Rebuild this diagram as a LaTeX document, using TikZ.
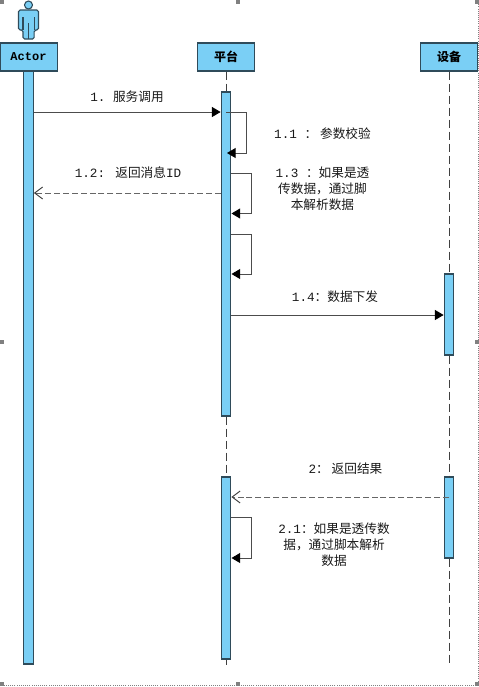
\documentclass[tikz,border=0pt]{standalone}
\usepackage{fontspec}
\setmainfont{Liberation Mono}
\newfontfamily\cjk{Noto Sans CJK SC}
\usetikzlibrary{arrows.meta}

\definecolor{barblue}{HTML}{7ACFF5}
\definecolor{barline}{HTML}{2F4B5A}
\definecolor{handle}{HTML}{808080}

\begin{document}
\begin{tikzpicture}[
            x=0.75pt,
            y=-0.75pt,
            semithick
        ]

        \tikzset{
            head/.style={draw=barline, fill=barblue, line width=1pt, minimum width=43pt, minimum height=21pt, inner sep=0pt, font=\bfseries\fontsize{9}{11}\selectfont},
            bar/.style={draw=barline, fill=barblue, line width=0.9pt, minimum width=7.2pt, inner sep=0pt},
            msg/.style={font=\fontsize{9.5}{12}\selectfont, align=center, inner sep=0pt, text=black!90},
            call/.style={draw=black!70, line width=0.7pt, -{Triangle[length=6.5pt, width=7.5pt, black]}},
            back/.style={draw=black!60, dash pattern=on 4.5pt off 2.2pt, line width=0.7pt, -{Straight Barb[length=6pt, width=9pt, black!75]}},
            life/.style={draw=black!75, dash pattern=on 6pt off 3pt, line width=0.7pt},
            handlebox/.style={fill=handle, inner sep=0pt, minimum size=3.2pt}
        }

        \useasboundingbox (0,0) rectangle (479,687);

        % page border with its handles
        \coordinate (tr) at (478,0);
        \coordinate (br) at (478,685);
        \coordinate (bl) at (0,685);
        \draw[handle, densely dotted, line width=0.6pt] (tr) -- (br) -- (bl);
        \node[handlebox] (h1) at (2,2) {};
        \node[handlebox] (h2) at (238,2) {};
        \node[handlebox] (h3) at (477,2) {};
        \node[handlebox] (h4) at (2,342) {};
        \node[handlebox] (h5) at (477,342) {};
        \node[handlebox] (h6) at (2,684) {};
        \node[handlebox] (h7) at (238,684) {};
        \node[handlebox] (h8) at (477,684) {};

        % actor figure
        \draw[barline, fill=barblue, line width=0.8pt, rounded corners=1.2pt]
            (18.5,10) -- (38.5,10) -- (38.5,30) -- (34.2,30) -- (34.2,39) -- (23,39) -- (23,30) -- (18.5,30) -- cycle;
        \draw[barline, line width=0.8pt] (28.5,23) -- (28.5,39);
        \draw[barline, line width=0.8pt] (23,17) -- (23,30);
        \draw[barline, line width=0.8pt] (34.2,17) -- (34.2,30);
        \draw[barline, fill=barblue, line width=0.8pt] (28.5,5) circle (4);

        \node[head] (actor) at (28.5,57) {Actor};
        \node[head] (platform) at (226,57) {\cjk 平台};
        \node[head] (device) at (449,57) {\cjk 设备};

        \node[bar, minimum height=444.75pt] (actorbar) at (28.5,367.5) {};
        \node[bar, minimum height=243pt] (pbarone) at (226,254) {};
        \node[bar, minimum height=136.5pt] (pbartwo) at (226,568) {};
        \node[bar, minimum height=60.75pt] (dbarone) at (449,314.5) {};
        \node[bar, minimum height=60.75pt] (dbartwo) at (449,517.5) {};

        \coordinate (pend) at (226,665);
        \coordinate (dend) at (449,665);

        \path[life] (platform.south) -- (pbarone.north);
        \path[life] (pbarone.south) -- (pbartwo.north);
        \path[life] (pbartwo.south) -- (pend);
        \path[life] (device.south) -- (dbarone.north);
        \path[life] (dbarone.south) -- (dbartwo.north);
        \path[life] (dbartwo.south) -- (dend);

        \coordinate (mone) at (0,112);
        \coordinate (mtwo) at (0,193);
        \coordinate (mfour) at (0,315);
        \coordinate (mback) at (0,497);

        \path[call] (actorbar.east |- mone) -- (pbarone.west |- mone);
        \path[back] (pbarone.west |- mtwo) -- (actorbar.east |- mtwo);
        \path[call] (pbarone.east |- mfour) -- (dbarone.west |- mfour);
        \path[back] (dbartwo.center |- mback) -- (pbartwo.east |- mback);

        % self calls
        \coordinate (sa) at (226,112);
        \coordinate (sb) at (246.5,112);
        \coordinate (sc) at (246.5,153);
        \coordinate (sd) at (227,153);
        \coordinate (se) at (231,173);
        \coordinate (sf) at (251,173);
        \coordinate (sg) at (251,213.5);
        \coordinate (sh) at (231.5,213.5);
        \coordinate (si) at (231,234);
        \coordinate (sj) at (251,234);
        \coordinate (sk) at (251,274);
        \coordinate (sl) at (231.5,274);
        \coordinate (sm) at (231,517);
        \coordinate (sn) at (251,517);
        \coordinate (so) at (251,558);
        \coordinate (sp) at (231.5,558);

        \path[call] (sa) -- (sb) -- (sc) -- (sd);
        \path[call] (se) -- (sf) -- (sg) -- (sh);
        \path[call] (si) -- (sj) -- (sk) -- (sl);
        \path[call] (sm) -- (sn) -- (so) -- (sp);

        \node[msg] (lone) at (127,97) {1.\ {\cjk 服务调用}};
        \node[msg] (loneone) at (322.5,134) {1.1 {\cjk ： 参数校验}};
        \node[msg] (lonetwo) at (128,173) {1.2: {\cjk 返回消息}ID};
        \node[msg] (lonethree) at (322.5,189) {1.3 {\cjk ：如果是透}\\{\cjk 传数据，通过脚}\\{\cjk 本解析数据}};
        \node[msg] (lonefour) at (335,297) {1.4{\cjk ：数据下发}};
        \node[msg] (ltwo) at (345.5,469) {2{\cjk ：  返回结果}};
        \node[msg] (ltwoone) at (334,545) {2.1{\cjk ：如果是透传数}\\{\cjk 据，通过脚本解析}\\{\cjk 数据}};

    \end{tikzpicture}
\end{document}
